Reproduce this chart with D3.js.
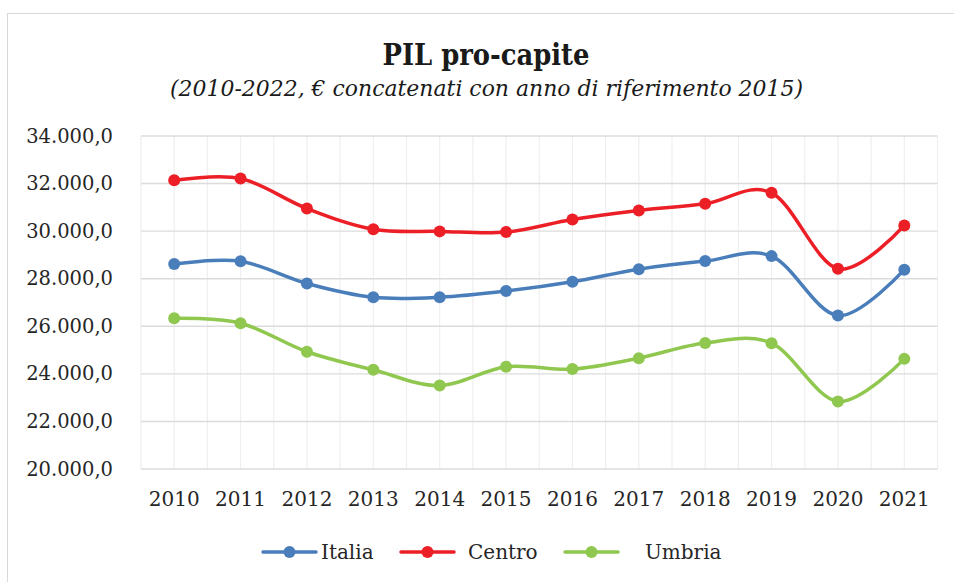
<!DOCTYPE html>
<html>
<head>
<meta charset="utf-8">
<script src="https://cdn.jsdelivr.net/npm/d3@7"></script>
<style>
  html, body { margin: 0; padding: 0; background: #ffffff; }
  svg { display: block; }
</style>
</head>
<body>
<svg id="visualization" width="954" height="582"></svg>
<script>
const years = ["2010", "2011", "2012", "2013", "2014", "2015", "2016", "2017", "2018", "2019", "2020", "2021"];
const italia = [28620, 28730, 27800, 27220, 27220, 27480, 27870, 28400, 28740, 28950, 26450, 28380];
const centro = [32140, 32210, 30950, 30080, 29990, 29960, 30490, 30870, 31150, 31610, 28420, 30240];
const umbria = [26340, 26130, 24930, 24170, 23510, 24300, 24200, 24660, 25300, 25290, 22840, 24630];
const yTicks = [20000, 22000, 24000, 26000, 28000, 30000, 32000, 34000];
const seriesNames = ["Italia", "Centro", "Umbria"];

const series = [
    { name: "Italia", values: italia, colour: "#4a7ebb" },
    { name: "Centro", values: centro, colour: "#ec1f27" },
    { name: "Umbria", values: umbria, colour: "#8fc74f" }
];

const svg = d3.select("#visualization");
const fontFamily = "'DejaVu Serif', 'Liberation Serif', serif";

// outer chart frame
svg.append("rect")
    .attr("x", 7.5)
    .attr("y", 13.5)
    .attr("width", 1000)
    .attr("height", 1000)
    .attr("fill", "white")
    .attr("stroke", "#d9d9d9")
    .attr("stroke-width", 1);

const plot = { left: 141, right: 937.5, top: 136, bottom: 469 };

const xScale = d3.scaleBand().domain(years).range([plot.left, plot.right]).padding(0);
const yScale = d3.scaleLinear().domain([20000, 34000]).range([plot.bottom, plot.top]);

// vertical grid: category boundaries and centres
const vLines = [];
years.forEach(y => {
    vLines.push(xScale(y));
    vLines.push(xScale(y) + xScale.bandwidth() / 2);
});
vLines.push(plot.right);

svg.selectAll("line.v-grid")
    .data(vLines)
    .join("line")
    .attr("class", "v-grid")
    .attr("x1", d => d)
    .attr("x2", d => d)
    .attr("y1", plot.top)
    .attr("y2", plot.bottom)
    .attr("stroke", "#efefef")
    .attr("stroke-width", 1.2);

svg.selectAll("line.h-grid")
    .data(yTicks)
    .join("line")
    .attr("class", "h-grid")
    .attr("x1", plot.left)
    .attr("x2", plot.right)
    .attr("y1", d => yScale(d))
    .attr("y2", d => yScale(d))
    .attr("stroke", "#dcdcdc")
    .attr("stroke-width", 1.4);

// y labels
const fmt = d => d3.format(",.1f")(d).replace(/,/g, "#").replace(".", ",").replace(/#/g, ".");

svg.selectAll("text.y-label")
    .data(yTicks)
    .join("text")
    .attr("class", "y-label")
    .attr("x", 113)
    .attr("y", d => yScale(d))
    .attr("text-anchor", "end")
    .attr("dominant-baseline", "central")
    .attr("font-family", fontFamily)
    .attr("font-size", 19.5)
    .attr("fill", "#262626")
    .text(fmt);

// x labels
svg.selectAll("text.x-label")
    .data(years)
    .join("text")
    .attr("class", "x-label")
    .attr("x", d => xScale(d) + xScale.bandwidth() / 2)
    .attr("y", 506)
    .attr("text-anchor", "middle")
    .attr("font-family", fontFamily)
    .attr("font-size", 20)
    .attr("fill", "#262626")
    .text(d => d);

// lines
const line = d3.line()
    .x((d, i) => xScale(years[i]) + xScale.bandwidth() / 2)
    .y(d => yScale(d))
    .curve(d3.curveCardinal.tension(0));

const seriesGroups = svg.selectAll("g.series")
    .data(series)
    .join("g")
    .attr("class", "series");

seriesGroups.append("path")
    .attr("d", d => line(d.values))
    .attr("fill", "none")
    .attr("stroke", d => d.colour)
    .attr("stroke-width", 3.5)
    .attr("stroke-linecap", "round");

seriesGroups.selectAll("circle")
    .data(d => d.values.map((v, i) => ({ v, i, colour: d.colour })))
    .join("circle")
    .attr("cx", d => xScale(years[d.i]) + xScale.bandwidth() / 2)
    .attr("cy", d => yScale(d.v))
    .attr("r", 6)
    .attr("fill", d => d.colour);

// title
svg.append("text")
    .attr("x", 486)
    .attr("y", 65)
    .attr("text-anchor", "middle")
    .attr("font-family", fontFamily)
    .attr("font-weight", "bold")
    .attr("font-size", 30)
    .attr("fill", "#1a1a1a")
    .attr("textLength", 207)
    .attr("lengthAdjust", "spacingAndGlyphs")
    .text("PIL pro-capite");

svg.append("text")
    .attr("x", 486.5)
    .attr("y", 96)
    .attr("text-anchor", "middle")
    .attr("font-family", fontFamily)
    .attr("font-style", "italic")
    .attr("font-size", 22)
    .attr("fill", "#1a1a1a")
    .attr("textLength", 633)
    .attr("lengthAdjust", "spacingAndGlyphs")
    .text("(2010-2022, € concatenati con anno di riferimento 2015)");

// legend
const legendX = [263, 401, 565];
const legendTextX = [321, 468, 645];
const legendY = 552;

const legendItems = svg.selectAll("g.legend")
    .data(series)
    .join("g")
    .attr("class", "legend");

legendItems.append("line")
    .attr("x1", (d, i) => legendX[i])
    .attr("x2", (d, i) => legendX[i] + 53)
    .attr("y1", legendY)
    .attr("y2", legendY)
    .attr("stroke", d => d.colour)
    .attr("stroke-width", 3.5)
    .attr("stroke-linecap", "round");

legendItems.append("circle")
    .attr("cx", (d, i) => legendX[i] + 26.5)
    .attr("cy", legendY)
    .attr("r", 6)
    .attr("fill", d => d.colour);

legendItems.append("text")
    .attr("x", (d, i) => legendTextX[i])
    .attr("y", legendY + 7)
    .attr("font-family", fontFamily)
    .attr("font-size", 20)
    .attr("fill", "#262626")
    .text((d, i) => seriesNames[i]);
</script>
</body>
</html>
